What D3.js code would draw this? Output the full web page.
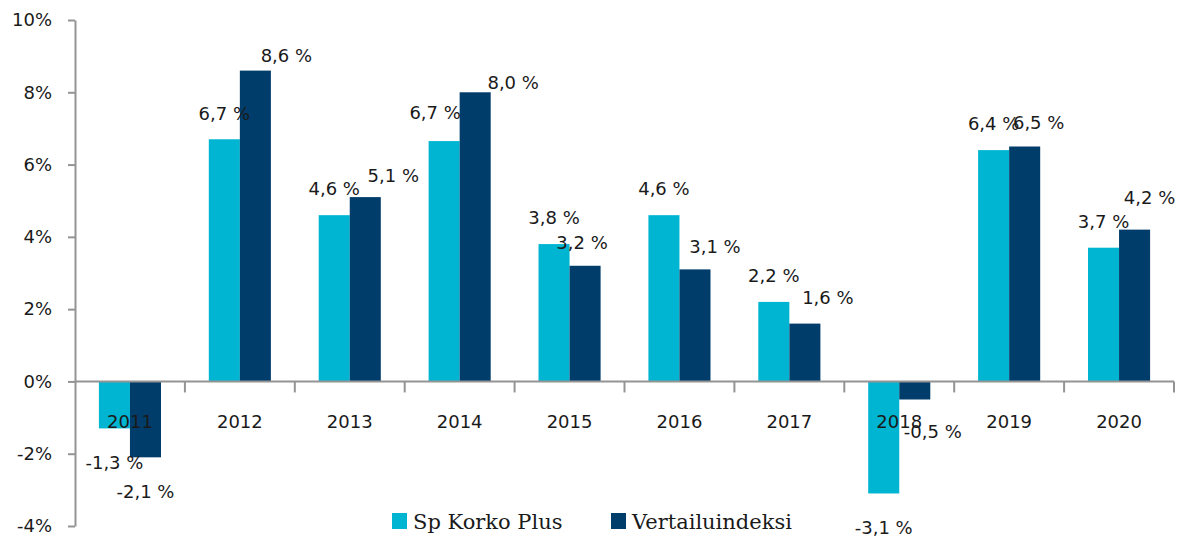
<!DOCTYPE html>
<html>
<head>
<meta charset="utf-8">
<script src="https://cdn.jsdelivr.net/npm/d3@7"></script>
<style>
  html, body { margin: 0; padding: 0; background: #fff; }
  svg { display: block; }
</style>
</head>
<body>
<svg id="chart" width="1179" height="537"></svg>
<script>
const years = ["2011", "2012", "2013", "2014", "2015", "2016", "2017", "2018", "2019", "2020"];
const seriesNames = ["Sp Korko Plus", "Vertailuindeksi"];
const korkoPlus = [-1.3, 6.7, 4.6, 6.65, 3.8, 4.6, 2.2, -3.1, 6.4, 3.7];
const vertailu = [-2.1, 8.6, 5.1, 8.0, 3.2, 3.1, 1.6, -0.5, 6.5, 4.2];
const yTicks = [-4, -2, 0, 2, 4, 6, 8, 10];

// manual label nudges (the source chart had hand-moved labels)
const labelNudge = [
  [[0, 0], [0, 0]],
  [[0, 0], [31, 11]],
  [[0, 0], [28, 5]],
  [[-9, -2], [38, 16]],
  [[0, 0], [-3, 3]],
  [[0, 0], [20, 3]],
  [[0, 0], [23, 0]],
  [[0, 0], [18, -2]],
  [[0, 0], [14, 2]],
  [[0, 0], [15, -6]]
];

const colors = ["#00b5d1", "#003d6b"];
const axisColor = "#949494";
const textFont = "'DejaVu Sans', sans-serif";
const legendFont = "'DejaVu Serif', serif";

const svg = d3.select("#chart");
const plotLeft = 75, plotRight = 1174, plotTop = 20, plotBottom = 526;

const y = d3.scaleLinear().domain([-4, 10]).range([plotBottom, plotTop]);
const x0 = d3.scaleBand().domain(years).range([plotLeft, plotRight]).padding(0);
const x1 = d3.scaleBand().domain([0, 1]).range([0, x0.bandwidth()])
    .paddingInner(0).paddingOuter(0.77);

const data = years.map((yr, i) => ({ year: yr, i: i, vals: [korkoPlus[i], vertailu[i]] }));

const fmt = v => d3.format(".1f")(v).replace(".", ",").replace("\u2212", "-") + " %";

// bars
const groups = svg.append("g").selectAll("g")
  .data(data).join("g")
    .attr("transform", d => "translate(" + x0(d.year) + ",0)");

groups.selectAll("rect")
  .data(d => d.vals.map((v, s) => ({ v: v, s: s })))
  .join("rect")
    .attr("x", d => x1(d.s))
    .attr("width", x1.bandwidth())
    .attr("y", d => y(Math.max(0, d.v)))
    .attr("height", d => Math.abs(y(d.v) - y(0)))
    .style("fill", d => colors[d.s]);

// y axis
const yAxis = svg.append("g")
  .attr("transform", "translate(" + plotLeft + ",0)")
  .call(d3.axisLeft(y).tickValues(yTicks).tickSize(7).tickSizeOuter(0)
    .tickFormat(d => d + "%"));
yAxis.select(".domain").attr("stroke", axisColor).attr("stroke-width", 2);
yAxis.selectAll(".tick line").attr("stroke", axisColor).attr("stroke-width", 2);
yAxis.selectAll(".tick text")
  .attr("x", -23)
  .style("font-family", textFont)
  .style("font-size", "18px")
  .style("fill", "#1a1a1a");

// zero line with category ticks
const xAxis = svg.append("g")
  .attr("transform", "translate(0," + y(0) + ")");
xAxis.append("line")
  .attr("x1", plotLeft).attr("x2", plotRight)
  .attr("stroke", axisColor).attr("stroke-width", 2);
const bounds = years.map(yr => x0(yr)).concat([plotRight]);
xAxis.selectAll("line.ct")
  .data(bounds.slice(1)).join("line")
    .attr("class", "ct")
    .attr("x1", d => d).attr("x2", d => d)
    .attr("y1", 0).attr("y2", 11)
    .attr("stroke", axisColor).attr("stroke-width", 2);

// category labels
svg.append("g").selectAll("text")
  .data(years).join("text")
    .attr("x", d => x0(d) + x0.bandwidth() / 2)
    .attr("y", y(0) + 40)
    .attr("dy", "0.35em")
    .attr("text-anchor", "middle")
    .style("font-family", textFont)
    .style("font-size", "18px")
    .style("fill", "#1a1a1a")
    .text(d => d);

// value labels
groups.selectAll("text")
  .data(d => d.vals.map((v, s) => ({ v: v, s: s, i: d.i })))
  .join("text")
    .attr("x", d => x1(d.s) + x1.bandwidth() / 2 + labelNudge[d.i][d.s][0])
    .attr("y", d => (d.v >= 0 ? y(d.v) - 26 : y(d.v) + 34) + labelNudge[d.i][d.s][1])
    .attr("dy", "0.35em")
    .attr("text-anchor", "middle")
    .style("font-family", textFont)
    .style("font-size", "18px")
    .style("fill", "#1a1a1a")
    .text(d => fmt(d.v));

// legend
const legendX = [392, 611];
const legend = svg.append("g").selectAll("g")
  .data(seriesNames).join("g")
    .attr("transform", (d, i) => "translate(" + legendX[i] + ",513)");
legend.append("rect")
  .attr("width", 15).attr("height", 16)
  .style("fill", (d, i) => colors[i]);
legend.append("text")
  .attr("x", 21).attr("y", 16)
  .style("font-family", legendFont)
  .style("font-size", "21px")
  .style("fill", "#1a1a1a")
  .text(d => d);
</script>
</body>
</html>
